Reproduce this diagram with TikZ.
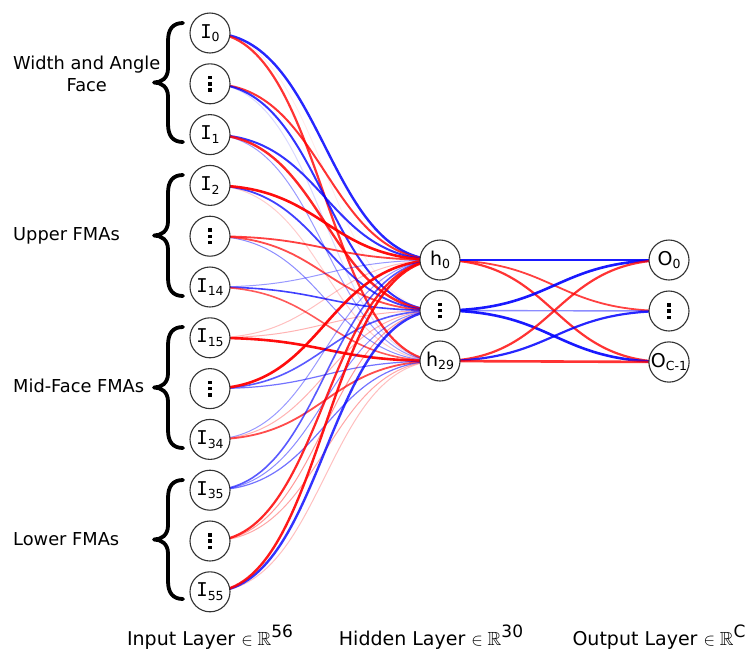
\documentclass[tikz,border=0pt]{standalone}
\usepackage{amssymb}
\usepackage{fontspec}
\setmainfont{DejaVu Sans}
\newfontfamily\capIfont{DejaVu Sans Mono}
\usetikzlibrary{backgrounds}

% subscript index inside a neuron
\newcommand{\lsub}[1]{\raisebox{-0.35ex}{\fontsize{12.5}{12.5}\selectfont #1}}
% serifed capital I for input neurons
\newcommand{\capI}{{\capIfont I}}
% three square dots standing for the omitted neurons
\newcommand{\vdotsq}{\vbox{\offinterlineskip
  \hbox{\rule{3.4pt}{3.4pt}}\kern2.8pt
  \hbox{\rule{3.4pt}{3.4pt}}\kern2.8pt
  \hbox{\rule{3.4pt}{3.4pt}}}}
% superscript dimension after the blackboard R
\newcommand{\dimsup}[1]{\raisebox{0.45em}{\fontsize{17}{17}\selectfont #1}}
% curly brace grouping one block of inputs: right edge x, top y, bottom y
\newcommand{\groupbrace}[3]{%
  \draw[bracestyle]
    (#1,#2) .. controls (#1-10,#2) and (#1-15,#2+6) .. (#1-15,#2+18)
    -- (#1-15,{(#2+#3)/2-14})
    .. controls (#1-15,{(#2+#3)/2-4}) and (#1-22,{(#2+#3)/2}) .. (#1-29,{(#2+#3)/2})
    .. controls (#1-22,{(#2+#3)/2}) and (#1-15,{(#2+#3)/2+4}) .. (#1-15,{(#2+#3)/2+14})
    -- (#1-15,#3-18)
    .. controls (#1-15,#3-6) and (#1-10,#3) .. (#1,#3);}

\tikzset{
  neuron/.style={circle, draw=black!80, line width=1.1pt, fill=white,
    minimum size=40pt, inner sep=0pt, font=\fontsize{19}{20}\selectfont},
  grouplabel/.style={anchor=west, inner sep=0pt, align=center,
    font=\fontsize{17.8}{22}\selectfont},
  layerlabel/.style={inner sep=0pt, font=\fontsize{19}{21}\selectfont},
  bracestyle/.style={line width=3.8pt, line cap=round, line join=round},
  weight/.style={line cap=round},
}

\begin{document}
\begin{tikzpicture}[x=1pt,y=-1pt]
\useasboundingbox (0,0) rectangle (751,654);

% input layer
\node[neuron] (in0)  at (210,33.0)  {\capI\lsub{0}};
\node[neuron] (in1)  at (210,83.8)  {\vdotsq};
\node[neuron] (in2)  at (210,134.6) {\capI\lsub{1}};
\node[neuron] (in3)  at (210,185.4) {\capI\lsub{2}};
\node[neuron] (in4)  at (210,236.2) {\vdotsq};
\node[neuron] (in5)  at (210,287.0) {\capI\lsub{14}};
\node[neuron] (in6)  at (210,337.8) {\capI\lsub{15}};
\node[neuron] (in7)  at (210,388.6) {\vdotsq};
\node[neuron] (in8)  at (210,439.4) {\capI\lsub{34}};
\node[neuron] (in9)  at (210,490.2) {\capI\lsub{35}};
\node[neuron] (in10) at (210,541.0) {\vdotsq};
\node[neuron] (in11) at (210,591.8) {\capI\lsub{55}};

% hidden layer
\node[neuron] (h0) at (440,260) {h\lsub{0}};
\node[neuron] (h1) at (440,310.5) {\vdotsq};
\node[neuron] (h2) at (440,361) {h\lsub{29}};

% output layer
\node[neuron] (o0) at (669,260) {O\lsub{0}};
\node[neuron] (o1) at (669,311) {\vdotsq};
\node[neuron] (o2) at (669,362) {O\lsub{C-1}};

% weighted connections, behind the neurons
\begin{scope}[on background layer]
\fill[white] (0,0) rectangle (751,654);
\foreach \sa/\ta/\col/\op/\lw in {
  in0/h1/red/0.08/0.8, in0/h0/blue/0.85/2.4, in0/h2/red/0.8/2.2,
  in1/h2/blue/0.15/1.0, in1/h0/red/0.8/2.0, in1/h1/blue/0.8/2.0,
  in2/h2/blue/0.4/1.0, in2/h0/blue/0.8/2.0, in2/h1/red/0.85/2.4,
  in3/h2/red/0.2/1.0, in3/h1/blue/0.75/1.8, in3/h0/red/0.95/2.6,
  in4/h2/blue/0.45/1.0, in4/h0/red/0.75/1.8, in4/h1/red/0.7/1.8,
  in5/h0/blue/0.4/1.0, in5/h1/blue/0.75/1.6, in5/h2/red/0.65/1.6,
  in6/h0/red/0.25/1.0, in6/h1/red/0.3/1.0, in6/h2/red/0.95/2.6,
  in7/h1/blue/0.65/1.6, in7/h2/blue/0.55/1.2, in7/h0/red/0.95/2.6,
  in8/h0/blue/0.4/1.0, in8/h1/red/0.3/1.0, in8/h2/red/0.7/1.8,
  in9/h0/blue/0.65/1.6, in9/h1/blue/0.45/1.0, in9/h2/blue/0.55/1.2,
  in10/h1/red/0.4/1.0, in10/h2/red/0.35/1.0, in10/h0/red/0.85/2.2,
  in11/h2/red/0.25/1.0, in11/h1/blue/0.8/2.4, in11/h0/red/0.9/2.4,
  h0/o1/red/0.75/1.8, h0/o2/red/0.8/2.2, h0/o0/blue/0.9/2.6,
  h1/o1/blue/0.45/1.4, h1/o0/blue/0.9/2.6, h1/o2/blue/0.9/2.6,
  h2/o0/red/0.8/2.2, h2/o1/blue/0.85/2.2, h2/o2/red/0.8/2.6}
{
  \draw[weight, draw=\col, opacity=\op, line width=\lw pt]
    (\sa.center) .. controls +(115,0) and +(-115,0) .. (\ta.center);
}
\end{scope}

% input groups
\groupbrace{183}{23}{142}
\groupbrace{183}{175}{296}
\groupbrace{183}{327}{448}
\groupbrace{183}{480}{599}
\node[grouplabel] (g1) at (13,74)  {Width and Angle\\Face};
\node[grouplabel] (g2) at (13,236) {Upper FMAs};
\node[grouplabel] (g3) at (13,386) {Mid-Face FMAs};
\node[grouplabel] (g4) at (13,539) {Lower FMAs};

% layer captions
\node[layerlabel] (cin)  at (210,637) {Input Layer $\in\mathbb{R}$\dimsup{56}};
\node[layerlabel] (chid) at (431,637) {Hidden Layer $\in\mathbb{R}$\dimsup{30}};
\node[layerlabel] (cout) at (659,637) {Output Layer $\in\mathbb{R}$\dimsup{C}};
\end{tikzpicture}
\end{document}
